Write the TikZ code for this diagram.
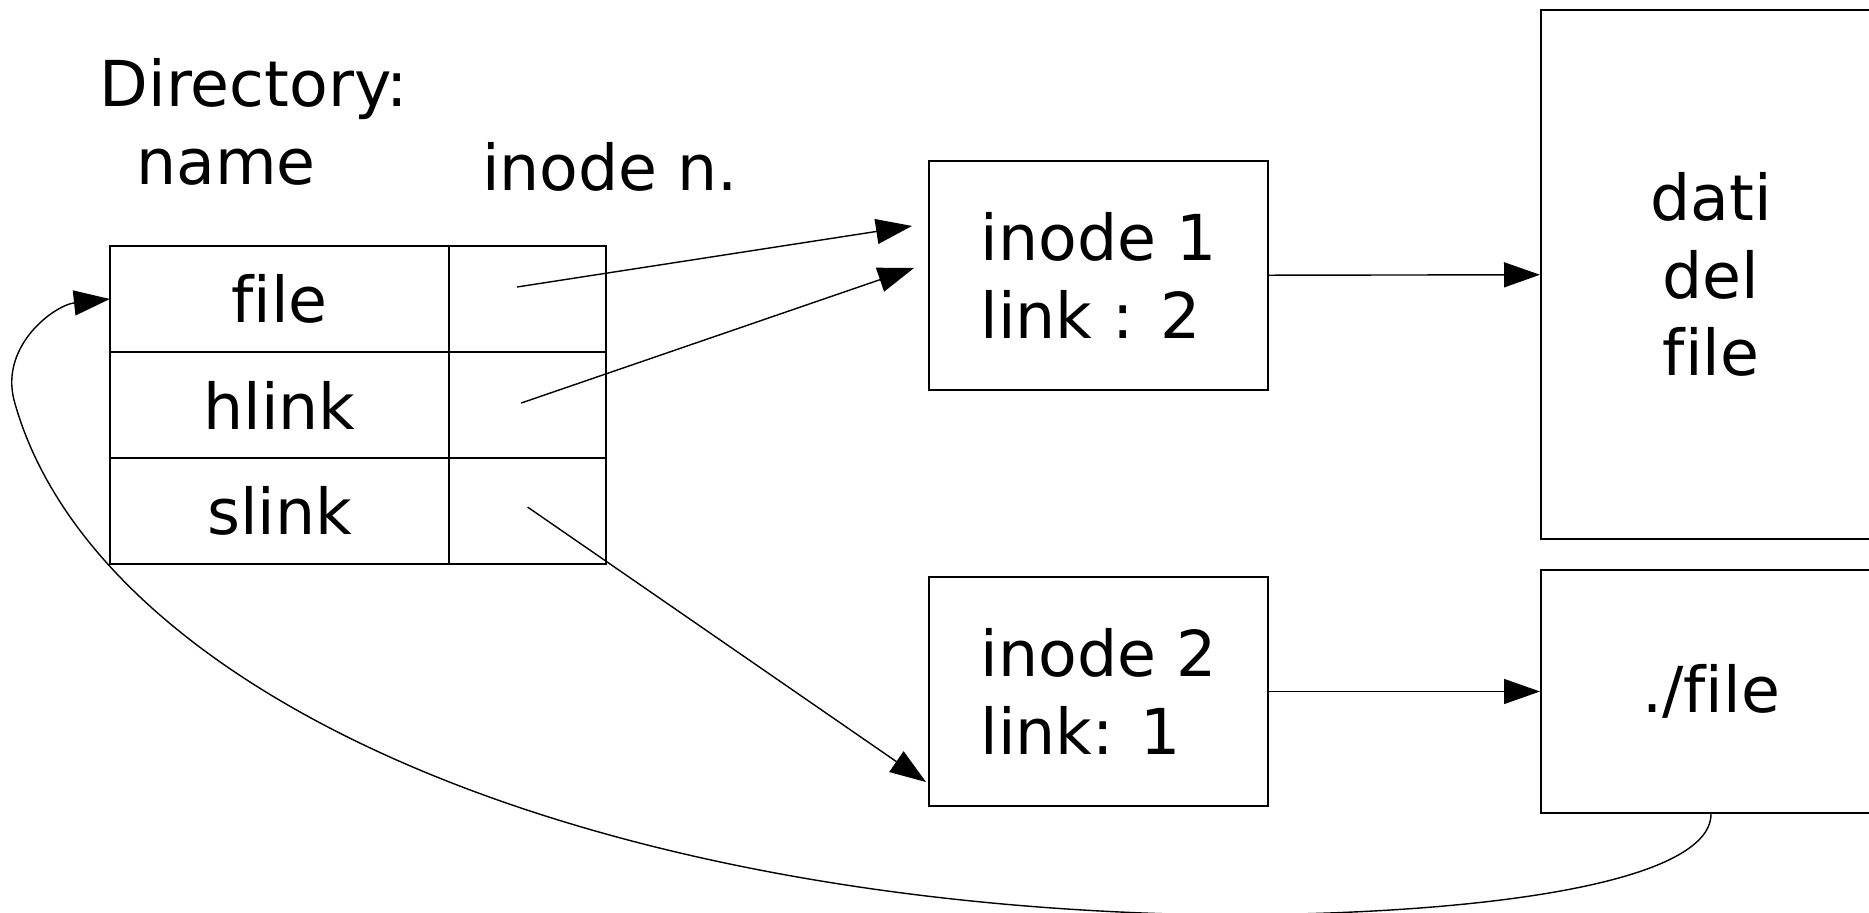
\documentclass[tikz,border=0pt]{standalone}
\usepackage{fontspec}
\setmainfont{DejaVu Sans}[Ligatures={NoCommon}]
\usetikzlibrary{positioning, arrows.meta}

\begin{document}
\begin{tikzpicture}[x=0.01cm, y=-0.01cm,
        font=\fontsize{18}{22}\selectfont,
        cell/.style={draw, line width=0.6pt, inner sep=0pt, outer sep=0pt, minimum height=1.06cm},
        namecell/.style={cell, minimum width=3.39cm},
        numcell/.style={cell, minimum width=1.57cm},
        box/.style={draw, line width=0.5pt, inner sep=0pt},
        ptr/.style={-{Triangle[length=0.36cm, width=0.25cm]}, line width=0.4pt}]
            \clip (0,0) rectangle (1869,913);
            \node (dirlabel) at (254,89) {Directory:};
            \node (namelabel) at (226,167) {name};
            \node (numlabel) at (610,167) {inode n.};

            \node[namecell] (cfile) at (279.5,299) {file};
            \node[namecell, below=0pt of cfile] (chlink) {hlink};
            \node[namecell, below=0pt of chlink] (cslink) {slink};
            \node[numcell, right=0pt of cfile] (ifile) {};
            \node[numcell, right=0pt of chlink] (ihlink) {};
            \node[numcell, right=0pt of cslink] (islink) {};

            \node[box, minimum width=3.39cm, minimum height=2.29cm, align=left] (inodeA) at (1098.5,275.5) {inode 1\\link : 2};
            \node[box, minimum width=3.39cm, minimum height=2.29cm, align=left] (inodeB) at (1098.5,691.5) {inode 2\\link: 1};
            \node[box, minimum width=3.4cm, minimum height=5.29cm, align=center] (dati) at (1711,274.5) {dati\\del\\file};
            \node[box, minimum width=3.4cm, minimum height=2.43cm] (target) at (1711,691.5) {./file};

            \draw[ptr] ([xshift=-0.105cm, yshift=0.12cm]ifile.center) -- ([xshift=-0.16cm, yshift=0.495cm]inodeA.west);
            \draw[ptr] ([xshift=-0.065cm, yshift=0.02cm]ihlink.center) -- ([xshift=-0.14cm, yshift=0.075cm]inodeA.west);
            \draw[ptr] ([yshift=0.04cm]islink.center) -- ([xshift=-0.02cm, yshift=-0.905cm]inodeB.west);
            \draw[ptr] (inodeA) -- (dati);
            \draw[ptr] (inodeB) -- (target);
            \draw[ptr] (target.south) .. controls (1711,880) and (1500,915) .. (1216,915)
                .. controls (550,905) and (90,680) .. (14,400)
                .. controls (0,345) and (55,305) .. (cfile.west);
        \end{tikzpicture}
\end{document}
